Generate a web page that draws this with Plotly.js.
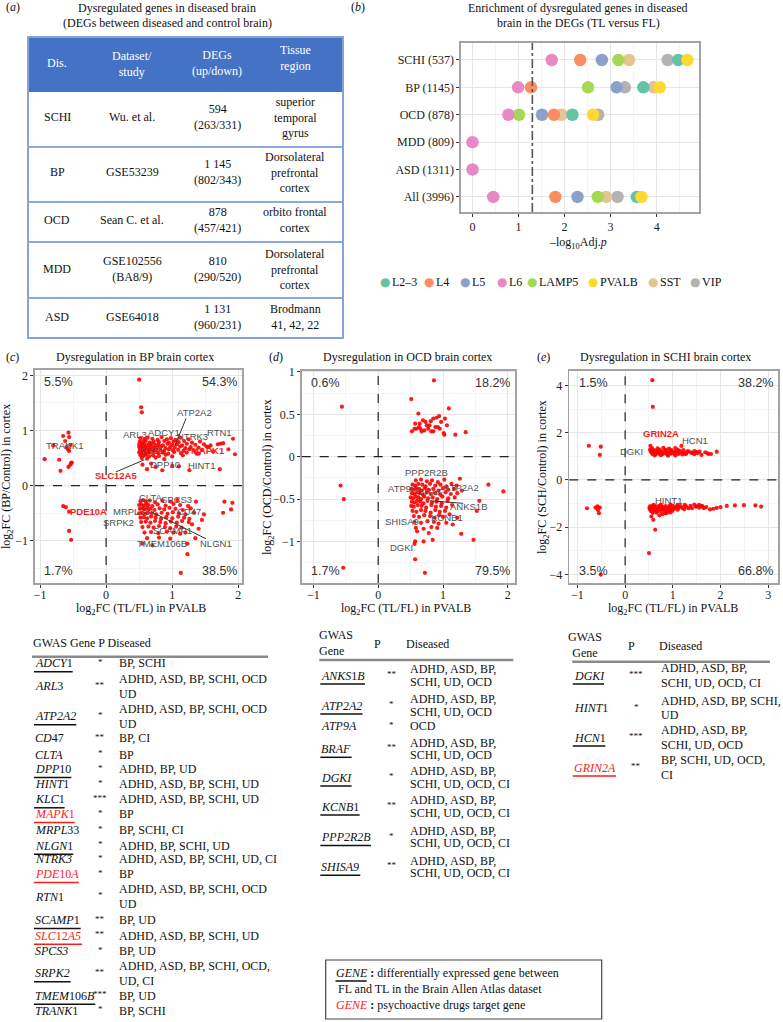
<!DOCTYPE html>
<html><head><meta charset="utf-8">
<script src="https://cdn.plot.ly/plotly-3.0.1.min.js"></script>
<style>html,body{margin:0;padding:0;background:#fff;}</style>
</head><body><div id="chart" style="width:783px;height:1022px;"></div>
<script>
// ---------------- DATA ----------------
// (a) table
const disNames = ['SCHI','BP','OCD','MDD','ASD'];
const datasets = ['Wu. et al.','GSE53239','Sean C. et al.','GSE102556<br>(BA8/9)','GSE64018'];
const degTotals = ['594','1 145','878','810','1 131'];
const degUpDown = ['263/331','802/343','457/421','290/520','960/231'];
const tissues = ['superior<br>temporal<br>gyrus','Dorsolateral<br>prefrontal<br>cortex','orbito frontal<br>cortex','Dorsolateral<br>prefrontal<br>cortex','Brodmann<br>41, 42, 22'];
const tableHeaders = ['Dis.','Dataset/<br>study','DEGs<br>(up/down)','Tissue<br>region'];

// (b) enrichment
const diseaseCats = ['SCHI (537)','BP (1145)','OCD (878)','MDD (809)','ASD (1311)','All (3996)'];
const cellTypes = ['L2–3','L4','L5','L6','LAMP5','PVALB','SST','VIP'];
const enrL23   = [4.47, 3.71, 2.17, null, null, 3.57];
const enrL4    = [2.34, 1.27, 1.77, null, null, 1.80];
const enrL5    = [2.81, 3.13, 1.51, null, null, 2.28];
const enrL6    = [1.72, 0.99, 0.78, 0, 0, 0.45];
const enrLAMP5 = [3.17, 2.51, 1.01, null, null, 2.72];
const enrPVALB = [4.67, 4.07, 2.62, null, null, 3.67];
const enrSST   = [3.40, 3.93, 1.93, null, null, 2.90];
const enrVIP   = [4.24, 3.31, 2.73, null, null, 3.15];
const enrichSeries = [enrL23, enrL4, enrL5, enrL6, enrLAMP5, enrPVALB, enrSST, enrVIP];
const sigThreshold = 1.3;

// (c) BP points [log2FC TL/FL, log2FC BP/Control]
const bpPoints = [
[-0.93,0.48],[-0.80,0.73],[-0.71,0.47],[-0.69,0.27],[-0.65,0.90],[-0.62,0.81],[-0.57,0.96],[-0.56,0.88],[-0.56,0.63],[-0.57,0.34],[-0.54,0.74],[-0.52,0.42],[-0.54,0.38],[-0.60,0.70],[-0.58,0.66],[-0.53,0.41],
[-0.65,-0.37],[-0.61,-0.39],[-0.56,-0.47],[-0.56,-0.82],[-0.53,-0.98],
[0.50,1.92],[0.53,1.42],[0.54,1.33],[1.92,0.85],[1.95,0.57],[1.73,0.76],[1.69,0.75],[1.77,0.77],[1.72,0.30],[1.26,0.28],[0.85,0.28],[0.55,0.38],[0.62,0.30],[1.10,0.35],[1.00,0.36],[0.75,0.34],[0.68,0.40],[1.62,0.62],[1.55,0.70],[1.40,0.58],[1.85,0.66],
[0.52,0.86],[0.58,0.84],[0.63,0.87],[0.70,0.85],[0.78,0.83],[0.84,0.88],[0.92,0.84],[0.98,0.86],[1.05,0.83],[1.12,0.87],[1.25,0.84],
[0.51,0.80],[0.55,0.79],[0.60,0.81],[0.66,0.78],[0.72,0.80],[0.80,0.79],[0.88,0.81],[0.95,0.78],[1.02,0.80],[1.10,0.79],[1.18,0.81],[1.30,0.78],[1.42,0.80],
[0.50,0.75],[0.54,0.74],[0.57,0.76],[0.61,0.73],[0.65,0.75],[0.69,0.76],[0.74,0.74],[0.79,0.75],[0.86,0.73],[0.93,0.76],[1.00,0.74],[1.07,0.75],[1.15,0.73],[1.22,0.76],[1.35,0.74],[1.48,0.75],[1.58,0.73],
[0.50,0.70],[0.53,0.69],[0.56,0.71],[0.60,0.70],[0.64,0.68],[0.68,0.71],[0.73,0.69],[0.78,0.70],[0.83,0.71],[0.90,0.68],[0.97,0.70],[1.04,0.69],[1.12,0.71],[1.20,0.68],[1.28,0.70],[1.40,0.69],[1.52,0.71],
[0.51,0.65],[0.54,0.64],[0.58,0.66],[0.62,0.63],[0.67,0.65],[0.71,0.66],[0.76,0.64],[0.82,0.65],[0.88,0.63],[0.95,0.66],[1.01,0.64],[1.09,0.65],[1.17,0.63],[1.26,0.66],[1.33,0.64],[1.45,0.65],
[0.50,0.60],[0.53,0.59],[0.57,0.61],[0.61,0.58],[0.66,0.60],[0.72,0.61],[0.79,0.59],[0.86,0.60],[0.94,0.58],[1.03,0.61],[1.13,0.59],[1.22,0.60],[1.37,0.58],
[0.52,0.55],[0.56,0.54],[0.60,0.56],[0.65,0.53],[0.71,0.55],[0.80,0.54],[0.90,0.56],[1.00,0.53],[1.16,0.55],
[0.54,0.50],[0.62,0.49],[0.75,0.51],[0.88,0.48],
[1.13,-1.58],[1.23,-1.24],[1.36,-0.29],[1.79,-0.29],[1.91,-0.31],[1.89,-0.43],[1.77,-0.49],[1.35,-0.95],[1.23,-1.05],[0.70,-1.08],[0.55,-1.05],[1.45,-0.62],[1.40,-0.78],[1.30,-0.70],[1.20,-0.85],[1.48,-0.52],
[0.52,-0.28],[0.56,-0.26],[0.60,-0.29],[0.66,-0.27],[0.74,-0.30],[0.85,-0.27],[0.98,-0.29],[1.08,-0.26],
[0.50,-0.35],[0.53,-0.34],[0.57,-0.36],[0.61,-0.33],[0.64,-0.35],[0.70,-0.37],[0.78,-0.34],[0.90,-0.36],[1.02,-0.33],[1.12,-0.35],[1.24,-0.37],
[0.51,-0.42],[0.55,-0.41],[0.58,-0.43],[0.62,-0.40],[0.67,-0.42],[0.73,-0.44],[0.81,-0.41],[0.88,-0.43],[0.96,-0.40],[1.05,-0.42],[1.16,-0.44],[1.28,-0.41],
[0.50,-0.50],[0.54,-0.49],[0.59,-0.51],[0.63,-0.48],[0.69,-0.50],[0.76,-0.52],[0.84,-0.49],[0.93,-0.51],[1.01,-0.48],[1.10,-0.50],[1.20,-0.52],[1.33,-0.49],
[0.52,-0.58],[0.57,-0.57],[0.62,-0.59],[0.68,-0.56],[0.75,-0.58],[0.83,-0.60],[0.91,-0.57],[1.00,-0.59],[1.09,-0.56],[1.18,-0.58],[1.26,-0.60],
[0.53,-0.66],[0.60,-0.65],[0.67,-0.67],[0.74,-0.64],[0.82,-0.66],[0.90,-0.68],[0.98,-0.65],[1.07,-0.67],[1.15,-0.64],[1.25,-0.66],
[0.55,-0.75],[0.64,-0.74],[0.72,-0.76],[0.80,-0.73],[0.89,-0.75],[0.97,-0.77],[1.06,-0.74],[1.14,-0.76],
[0.58,-0.85],[0.68,-0.84],[0.79,-0.86],[0.92,-0.83],[1.02,-0.85],[1.12,-0.87],
[0.62,-0.95],[0.80,-0.94],[0.97,-0.96]
];
const bpQuadrants = ['5.5%','54.3%','1.7%','38.5%'];
const bpLabels = ['TRANK1','ATP2A2','ARL3','ADCY1','NTRK3','RTN1','KLC1','MAPK1','DPP10','HINT1','SLC12A5','CLTA','SPCS3','PDE10A','MRPL33','CD47','SRPK2','SCAMP1','NLGN1','TMEM106B'];
const bpLabelRed = [0,0,0,0,0,0,0,1,0,0,1,0,0,1,0,0,0,0,0,0];

// (d) OCD points
const ocdPoints = [
[-0.56,0.59],[-0.58,-0.34],[-0.53,-0.50],[-0.54,-1.31],
[0.86,0.90],[0.51,0.68],[0.62,0.51],[1.09,0.57],[1.03,0.45],[0.94,0.48],[0.90,0.46],[0.85,0.45],[0.81,0.42],[0.69,0.43],[0.57,0.39],[0.64,0.39],[0.75,0.37],[0.79,0.37],[0.92,0.35],[1.06,0.37],[0.52,0.30],[0.59,0.33],[0.65,0.33],[0.71,0.31],[0.77,0.33],[0.82,0.30],[0.88,0.35],[0.95,0.33],[1.01,0.28],[1.02,0.26],[1.19,0.26],[1.35,0.29],[0.63,0.35],[0.73,0.41],[0.85,0.30],[0.56,0.33],[0.67,0.30],[0.97,0.41],
[1.70,-0.33],[1.93,-0.41],[1.56,-0.52],[1.52,-0.64],[1.47,-0.98],[0.72,-1.37],[0.57,-1.21],[0.57,-1.00],[0.56,-1.03],[1.28,-0.91],[1.26,-0.26],[0.70,-1.00],[0.84,-0.98],[0.78,-0.90],[0.60,-0.88],[1.05,-0.78],[1.15,-0.80],[1.10,-0.68],[1.22,-0.72],
[0.58,-0.28],[0.66,-0.27],[0.75,-0.29],[0.83,-0.28],[0.92,-0.30],[1.02,-0.27],
[0.53,-0.33],[0.57,-0.34],[0.62,-0.32],[0.68,-0.33],[0.73,-0.35],[0.80,-0.32],[0.88,-0.34],[0.96,-0.33],[1.05,-0.35],[1.13,-0.32],[1.21,-0.34],
[0.51,-0.38],[0.55,-0.39],[0.59,-0.37],[0.63,-0.38],[0.67,-0.40],[0.72,-0.37],[0.78,-0.39],[0.85,-0.38],[0.93,-0.40],[1.00,-0.37],[1.08,-0.39],[1.17,-0.38],[1.29,-0.40],
[0.52,-0.43],[0.56,-0.44],[0.60,-0.42],[0.64,-0.43],[0.69,-0.45],[0.75,-0.42],[0.81,-0.44],[0.88,-0.43],[0.96,-0.45],[1.04,-0.42],[1.12,-0.44],[1.22,-0.43],
[0.50,-0.48],[0.54,-0.49],[0.58,-0.47],[0.62,-0.48],[0.66,-0.50],[0.71,-0.47],[0.77,-0.49],[0.84,-0.48],[0.91,-0.50],[0.99,-0.47],[1.08,-0.49],[1.18,-0.48],
[0.52,-0.53],[0.56,-0.54],[0.60,-0.52],[0.65,-0.53],[0.70,-0.55],[0.76,-0.52],[0.83,-0.54],[0.90,-0.53],[0.98,-0.55],[1.07,-0.52],
[0.51,-0.58],[0.55,-0.59],[0.61,-0.57],[0.67,-0.58],[0.74,-0.60],[0.82,-0.57],[0.89,-0.59],[0.97,-0.58],[1.05,-0.60],[1.14,-0.57],
[0.53,-0.64],[0.59,-0.65],[0.66,-0.63],[0.73,-0.64],[0.81,-0.66],[0.88,-0.63],[0.95,-0.65],[1.03,-0.64],
[0.55,-0.70],[0.63,-0.71],[0.71,-0.69],[0.80,-0.70],[0.87,-0.72],[0.94,-0.69],[1.00,-0.71],
[0.56,-0.77],[0.66,-0.78],[0.76,-0.76],[0.86,-0.77],[0.93,-0.79],
[0.58,-0.84],[0.70,-0.85],[0.82,-0.83],[0.91,-0.84]
];
const ocdQuadrants = ['0.6%','18.2%','1.7%','79.5%'];
const ocdLabels = ['PPP2R2B','ATP9A','BRAF','ATP2A2','ANKS1B','KCNB1','SHISA9','DGKI'];
const ocdLabelRed = [0,0,0,0,0,0,0,0];

// (e) SCHI points
const schPoints = [
[-0.76,1.45],[-0.51,1.41],[-0.53,1.06],
[-0.80,-1.20],[-0.62,-1.17],[-0.57,-1.27],[-0.55,-1.41],[-0.53,-1.17],[-0.58,-1.12],[-0.51,-4.01],
[0.57,4.23],[0.58,3.10],[0.53,1.44],[1.18,1.44],[1.92,1.20],[1.80,1.10],[1.73,1.13],[1.60,1.06],[1.50,1.18],[1.40,1.15],[1.33,1.21],[1.26,1.10],
[0.56,1.35],[0.68,1.34],[0.80,1.36],[0.92,1.33],[1.05,1.35],
[0.52,1.28],[0.60,1.27],[0.72,1.29],[0.85,1.28],[0.97,1.26],[1.10,1.29],[1.22,1.27],
[0.54,1.22],[0.58,1.21],[0.63,1.23],[0.70,1.22],[0.77,1.20],[0.84,1.23],[0.90,1.21],[0.98,1.22],[1.06,1.20],[1.14,1.23],[1.30,1.21],[1.45,1.22],[1.56,1.20],
[0.55,1.16],[0.60,1.15],[0.66,1.17],[0.73,1.16],[0.80,1.14],[0.87,1.17],[0.95,1.15],[1.02,1.16],[1.10,1.14],[1.18,1.17],[1.24,1.15],[1.38,1.16],[1.52,1.14],[1.68,1.17],
[0.57,1.10],[0.64,1.09],[0.71,1.11],[0.79,1.10],[0.88,1.08],[0.96,1.11],[1.04,1.09],[1.12,1.10],[1.20,1.08],[1.28,1.11],[1.45,1.09],[1.75,1.10],
[0.62,1.04],[0.75,1.05],[0.90,1.03],[1.05,1.04],
[0.55,-1.55],[0.59,-1.69],[0.63,-2.11],[0.50,-3.10],[0.87,-1.41],[2.30,-1.08],[2.49,-1.07],[2.73,-1.08],[2.85,-1.13],[2.13,-1.10],[2.00,-1.15],[1.92,-1.18],[1.85,-1.22],[1.78,-1.25],[1.70,-1.15],[1.60,-1.12],[1.50,-1.12],[1.40,-1.20],[0.78,-1.45],[0.72,-1.50],
[0.60,-1.05],[0.75,-1.06],[0.95,-1.04],[1.10,-1.05],[1.25,-1.06],[1.45,-1.04],[1.55,-1.05],
[0.52,-1.12],[0.56,-1.11],[0.61,-1.13],[0.66,-1.12],[0.72,-1.10],[0.78,-1.13],[0.85,-1.11],[0.92,-1.12],[1.00,-1.10],[1.08,-1.13],[1.16,-1.11],[1.28,-1.12],[1.37,-1.10],[1.48,-1.13],[1.62,-1.11],
[0.51,-1.18],[0.55,-1.19],[0.59,-1.17],[0.64,-1.18],[0.69,-1.20],[0.75,-1.17],[0.81,-1.19],[0.88,-1.18],[0.95,-1.20],[1.03,-1.17],[1.12,-1.19],[1.20,-1.18],[1.33,-1.20],[1.55,-1.17],[1.65,-1.19],
[0.52,-1.25],[0.57,-1.24],[0.62,-1.26],[0.68,-1.25],[0.74,-1.23],[0.80,-1.26],[0.87,-1.24],[0.94,-1.25],[1.02,-1.23],[1.10,-1.26],[1.24,-1.24],
[0.54,-1.32],[0.60,-1.31],[0.67,-1.33],[0.74,-1.32],[0.82,-1.30],[0.90,-1.33],[0.99,-1.31],
[0.58,-1.40],[0.66,-1.39],[0.84,-1.41],[0.95,-1.38]
];
const schQuadrants = ['1.5%','38.2%','3.5%','66.8%'];
const schLabels = ['GRIN2A','HCN1','DGKI','HINT1'];
const schLabelRed = [1,0,0,0];

// GWAS tables
const gwasCGenes = ['<i>ADCY</i>1','<i>ARL</i>3','<i>ATP2A2</i>','<i>CD</i>47','<i>CLTA</i>','<i>DPP</i>10','<i>HINT</i>1','<i>KLC</i>1','<i>MAPK</i>1','<i>MRPL</i>33','<i>NLGN</i>1','<i>NTRK3</i>','<i>PDE</i>10<i>A</i>','<i>RTN</i>1','<i>SCAMP</i>1','<i>SLC</i>12<i>A5</i>','<i>SPCS3</i>','<i>SRPK2</i>','<i>TMEM</i>106<i>B</i>','<i>TRANK</i>1'];
const gwasCP = ['*','**','*','**','*','*','*','***','*','*','*','*','*','*','**','**','*','**','***','*'];
const gwasCDis = [['BP, SCHI'],['ADHD, ASD, BP, SCHI, OCD','UD'],['ADHD, ASD, BP, SCHI, OCD','UD'],['BP, CI'],['BP'],['ADHD, BP, UD'],['ADHD, ASD, BP, SCHI, UD'],['ADHD, ASD, BP, SCHI, UD'],['BP'],['BP, SCHI, CI'],['ADHD, BP, SCHI, UD'],['ADHD, ASD, BP, SCHI, UD, CI'],['BP'],['ADHD, ASD, BP, SCHI, OCD','UD'],['BP, UD'],['ADHD, ASD, BP, SCHI, UD'],['BP, UD'],['ADHD, ASD, BP, SCHI, OCD,','UD, CI'],['BP, UD'],['BP, SCHI']];
const gwasCDeg = [1,0,1,0,0,1,0,1,1,0,1,0,1,0,1,1,0,1,1,0];
const gwasCDrug = [0,0,0,0,0,0,0,0,1,0,0,0,1,0,0,1,0,0,0,0];

const gwasDGenes = ['<i>ANKS</i>1<i>B</i>','<i>ATP2A2</i>','<i>ATP9A</i>','<i>BRAF</i>','<i>DGKI</i>','<i>KCNB</i>1','<i>PPP2R2B</i>','<i>SHISA9</i>'];
const gwasDP = ['**','*','*','**','*','**','*','**'];
const gwasDDis = [['ADHD, ASD, BP,','SCHI, UD, OCD'],['ADHD, ASD, BP,','SCHI, UD, OCD'],['OCD'],['ADHD, ASD, BP,','SCHI, UD, OCD'],['ADHD, ASD, BP,','SCHI, UD, OCD, CI'],['ADHD, ASD, BP,','SCHI, UD, OCD, CI'],['ADHD, ASD, BP,','SCHI, UD, OCD, CI'],['ADHD, ASD, BP,','SCHI, UD, OCD, CI']];
const gwasDDeg = [1,1,0,1,1,1,1,1];
const gwasDDrug = [0,0,0,0,0,0,0,0];

const gwasEGenes = ['<i>DGKI</i>','<i>HINT</i>1','<i>HCN</i>1','<i>GRIN2A</i>'];
const gwasEP = ['***','*','***','**'];
const gwasEDis = [['ADHD, ASD, BP,','SCHI, UD, OCD, CI'],['ADHD, ASD, BP, SCHI,','UD'],['ADHD, ASD, BP,','SCHI, UD, OCD'],['BP, SCHI, UD, OCD,','CI']];
const gwasEDeg = [1,0,1,1];
const gwasEDrug = [0,0,0,1];

// ---------------- LAYOUT HELPERS ----------------
const W = 783, H = 1022;
const px = x => x / W;
const py = y => 1 - y / H;
const SERIF = '"Liberation Serif", "Times New Roman", serif';
const SANS = '"Liberation Sans", Arial, sans-serif';
const RED = '#FF1A1A';
const annotations = [];
const shapes = [];

function txt(text, x, y, o) {
  o = o || {};
  const font = Object.assign({family: SERIF, size: 12, color: '#111'}, o.font || {});
  const a = Object.assign({text: text, x: px(x), y: py(y), xref: 'paper', yref: 'paper', showarrow: false,
    xanchor: 'center', yanchor: 'middle'}, o);
  a.font = font;
  annotations.push(a);
}
function pline(x0, y0, x1, y1, color, w, dash) {
  shapes.push({type: 'line', xref: 'paper', yref: 'paper', x0: px(x0), y0: py(y0), x1: px(x1), y1: py(y1),
    line: {color: color, width: w, dash: dash || 'solid'}});
}
function prect(x0, y0, x1, y1, lineColor, lineW, fill) {
  shapes.push({type: 'rect', xref: 'paper', yref: 'paper', x0: px(x0), y0: py(y0), x1: px(x1), y1: py(y1),
    line: {color: lineColor, width: lineW}, fillcolor: fill || 'rgba(0,0,0,0)', layer: 'below'});
}
const mctx = document.createElement('canvas').getContext('2d');
function textW(html, size) {
  mctx.font = 'italic ' + size + 'px "Liberation Serif"';
  return mctx.measureText(html.replace(/<[^>]+>/g, '')).width;
}

// ---------------- (a) TABLE ----------------
txt('(<i>a</i>)', 4, 7, {xanchor: 'left'});
txt('Dysregulated genes in diseased brain', 167, 7.5);
txt('(DEGs between diseased and control brain)', 167, 23);
const tL = 28, tR = 343, tTop = 37, tHead = 92, tBot = 338;
const rowLines = [147, 202, 242, 298];
const rowCenters = [117.5, 172, 220.5, 269, 317];
const colX = [57, 132, 217, 295];
const headY = [63, 64.5, 62.5, 58];
prect(tL, tTop, tR, tHead, '#4472C4', 0, '#4472C4');
rowLines.forEach(y => pline(tL, y, tR, y, '#8EAADB', 2));
shapes.push({type: 'rect', xref: 'paper', yref: 'paper', x0: px(tL), y0: py(tBot), x1: px(tR), y1: py(tTop),
  line: {color: '#86A4DA', width: 2}, fillcolor: 'rgba(0,0,0,0)'});
tableHeaders.forEach((h, i) => txt(h, colX[i], headY[i], {font: {color: '#FFFFFF'}}));
disNames.forEach((d, i) => {
  const y = rowCenters[i];
  txt(d, colX[0], y);
  txt(datasets[i], colX[1], y);
  txt(degTotals[i] + '<br>(' + degUpDown[i] + ')', colX[2], y);
  txt(tissues[i], colX[3], y);
});

// ---------------- (b) ENRICHMENT ----------------
txt('(<i>b</i>)', 358, 7, {xanchor: 'center'});
txt('Enrichment of dysregulated genes in diseased', 578, 7.5);
txt('brain in the DEGs (TL versus FL)', 578, 23);
txt('–log<sub>10</sub>Adj.<i>p</i>', 578, 243);
const cellColors = ['#66C2A5', '#FC8D62', '#8DA0CB', '#E78AC3', '#A6D854', '#FFD92F', '#E5C494', '#B3B3B3'];
const drawOrder = [7, 6, 4, 2, 1, 0, 5, 3];
const legendMarkX = [385, 429, 465, 502, 532, 593, 653, 695];
cellTypes.forEach((c, i) => {
  txt('●', legendMarkX[i], 282, {font: {family: '"DejaVu Sans", sans-serif', size: 12, color: cellColors[i]}});
  txt(c, legendMarkX[i] + 5, 282, {xanchor: 'left'});
});

const traces = [];
drawOrder.forEach(i => {
  traces.push({type: 'scatter', mode: 'markers', x: enrichSeries[i], y: diseaseCats, xaxis: 'x', yaxis: 'y',
    name: cellTypes[i], marker: {size: 12.5, color: cellColors[i], line: {width: 0}}, hoverinfo: 'skip'});
});
shapes.push({type: 'line', xref: 'x', yref: 'y domain', x0: sigThreshold, x1: sigThreshold, y0: 0, y1: 1,
  line: {color: '#555', width: 1.6, dash: 'dashdot'}});

// ---------------- (c)(d)(e) SCATTERS ----------------
function scatterTrace(pts, ax) {
  return {type: 'scatter', mode: 'markers', x: pts.map(p => p[0]), y: pts.map(p => p[1]),
    xaxis: 'x' + ax, yaxis: 'y' + ax, marker: {size: 4.2, color: '#FF0000', opacity: 0.9, line: {width: 0}}, hoverinfo: 'skip'};
}
traces.push(scatterTrace(bpPoints, 2));
traces.push(scatterTrace(ocdPoints, 3));
traces.push(scatterTrace(schPoints, 4));

function zeroLines(ax) {
  shapes.push({type: 'line', xref: 'x' + ax, yref: 'y' + ax + ' domain', x0: 0, x1: 0, y0: 0, y1: 1, line: {color: '#222', width: 1.2, dash: 'dash'}});
  shapes.push({type: 'line', xref: 'x' + ax + ' domain', yref: 'y' + ax, x0: 0, x1: 1, y0: 0, y1: 0, line: {color: '#222', width: 1.2, dash: 'dash'}});
}
function quadrants(ax, q) {
  const f = {family: SANS, size: 12.5, color: '#333'};
  const base = {xref: 'x' + ax + ' domain', yref: 'y' + ax + ' domain', showarrow: false, font: f};
  annotations.push(Object.assign({}, base, {text: q[0], x: 0.035, y: 0.985, xanchor: 'left', yanchor: 'top'}));
  annotations.push(Object.assign({}, base, {text: q[1], x: 0.985, y: 0.985, xanchor: 'right', yanchor: 'top'}));
  annotations.push(Object.assign({}, base, {text: q[2], x: 0.035, y: 0.015, xanchor: 'left', yanchor: 'bottom'}));
  annotations.push(Object.assign({}, base, {text: q[3], x: 0.985, y: 0.015, xanchor: 'right', yanchor: 'bottom'}));
}
function geneLabels(ax, names, red, lx, ly) {
  names.forEach((n, i) => {
    annotations.push({text: red[i] ? '<b>' + n + '</b>' : n, x: lx[i], y: ly[i], xref: 'x' + ax, yref: 'y' + ax,
      showarrow: false, xanchor: 'center', yanchor: 'middle',
      font: {family: SANS, size: 9.5, color: red[i] ? RED : '#505050'}});
  });
}
function leader(ax, x0, y0, x1, y1) {
  shapes.push({type: 'line', xref: 'x' + ax, yref: 'y' + ax, x0: x0, y0: y0, x1: x1, y1: y1, line: {color: '#333', width: 1}});
}

const xTitleY = 609;
// (c)
txt('(<i>c</i>)', 4, 357, {xanchor: 'left'});
txt('Dysregulation in BP brain cortex', 135, 357);
txt('log<sub>2</sub>FC (TL/FL) in PVALB', 141, xTitleY);
txt('log<sub>2</sub>FC (BP/Control) in cortex', 7, 477, {textangle: -90});
zeroLines(2); quadrants(2, bpQuadrants);
geneLabels(2, bpLabels, bpLabelRed,
  [-0.63, 1.34, 0.44, 0.88, 1.31, 1.72, 0.70, 1.54, 0.89, 1.44, 0.15, 0.68, 1.06, -0.26, 0.38, 1.26, 0.18, 1.01, 1.66, 0.85],
  [0.72, 1.32, 0.92, 0.96, 0.90, 0.96, 0.63, 0.63, 0.39, 0.36, 0.18, -0.21, -0.25, -0.47, -0.46, -0.47, -0.67, -0.81, -1.04, -1.05]);
leader(2, 1.21, 1.22, 1.04, 0.72);
leader(2, 0.15, 0.25, 0.58, 0.47);
leader(2, 0.68, -0.47, 1.51, -0.96);

// (d)
txt('(<i>d</i>)', 276, 357);
txt('Dysregulation in OCD brain cortex', 408, 357);
txt('log<sub>2</sub>FC (TL/FL) in PVALB', 406, xTitleY);
txt('log<sub>2</sub>FC (OCD/Control) in cortex', 268, 477, {textangle: -90});
zeroLines(3); quadrants(3, ocdQuadrants);
geneLabels(3, ocdLabels, ocdLabelRed,
  [0.75, 0.39, 0.82, 1.29, 1.40, 1.06, 0.36, 0.36],
  [-0.19, -0.38, -0.41, -0.36, -0.59, -0.72, -0.76, -1.07]);
leader(3, 0.80, -0.52, 1.31, -0.55);

// (e)
txt('(<i>e</i>)', 543, 357);
txt('Dysregulation in SCHI brain cortex', 665, 357);
txt('log<sub>2</sub>FC (TL/FL) in PVALB', 673, xTitleY);
txt('log<sub>2</sub>FC (SCH/Control) in cortex', 543, 477, {textangle: -90});
zeroLines(4); quadrants(4, schQuadrants);
geneLabels(4, schLabels, schLabelRed, [0.75, 1.46, 0.13, 0.90], [1.97, 1.66, 1.20, -0.89]);

// ---------------- GWAS TABLES ----------------
function gwasTable(genes, ps, dis, deg, drug, rowY, geneX, pX, disX, lineGap) {
  genes.forEach((g, i) => {
    const y = rowY[i];
    const col = drug[i] ? RED : '#111';
    txt(g, geneX, y, {xanchor: 'left', font: {color: col}});
    txt(ps[i], pX, y - 1.5, {font: {size: 9}});
    if (dis[i].length === 1) txt(dis[i][0], disX, y, {xanchor: 'left'});
    else { txt(dis[i][0], disX, y - lineGap, {xanchor: 'left'}); txt(dis[i][1], disX, y + lineGap, {xanchor: 'left'}); }
    if (deg[i]) {
      const w = textW(g, 12);
      pline(geneX + 1, y + 8.5, geneX + 3 + w, y + 8.5, drug[i] ? RED : '#111', 1.5);
    }
  });
}
// table under (c)
txt('GWAS Gene P Diseased', 30.5, 643, {xanchor: 'left'});
pline(32, 656.7, 268, 656.7, '#8a8a8a', 2.5);
gwasTable(gwasCGenes, gwasCP, gwasCDis, gwasCDeg, gwasCDrug,
  [663.3, 686.2, 716.2, 738.3, 754.5, 769, 784, 799.3, 814, 830, 845.7, 859.3, 874, 896.5, 920, 935.7, 951, 973.3, 995.7, 1010.7],
  33, 100, 117.3, 7.5);
// table under (d)
txt('GWAS<br>Gene', 317, 642.5, {xanchor: 'left', align: 'left'});
txt('P', 377.3, 644);
txt('Diseased', 404.3, 644, {xanchor: 'left'});
pline(319.3, 660, 513.3, 660, '#8a8a8a', 2.5);
gwasTable(gwasDGenes, gwasDP, gwasDDis, gwasDDeg, gwasDDrug,
  [675.5, 705.5, 726, 748.8, 777.5, 806.5, 837, 866.7],
  319.3, 391.7, 408.3, 6.2);
// table under (e)
txt('GWAS<br>Gene', 585, 645, {align: 'center'});
txt('P', 631.7, 645.7);
txt('Diseased', 656.7, 645.7, {xanchor: 'left'});
pline(572.3, 661.7, 770, 661.7, '#8a8a8a', 2.5);
gwasTable(gwasEGenes, gwasEP, gwasEDis, gwasEDeg, gwasEDrug,
  [675.5, 708, 737.5, 767.5],
  571.7, 636, 659.3, 7.3);

// ---------------- KEY BOX ----------------
shapes.push({type: 'rect', xref: 'paper', yref: 'paper', x0: px(325.7), y0: py(1019), x1: px(601.7), y1: py(960),
  line: {color: '#444', width: 1.2}, fillcolor: 'rgba(0,0,0,0)'});
txt('<i>GENE</i> <b>:</b> differentially expressed gene between', 334, 972.7, {xanchor: 'left'});
pline(335.5, 981, 366.7, 981, '#111', 1.5);
txt('FL and TL in the Brain Allen Atlas dataset', 336, 989.3, {xanchor: 'left'});
txt('<span style="color:' + RED + '"><i>GENE</i></span> <b>:</b> psychoactive drugs target gene', 334, 1005, {xanchor: 'left'});

// ---------------- AXES ----------------
function axisBase(extra) {
  return Object.assign({showgrid: true, gridcolor: '#E6E6E6', gridwidth: 1, zeroline: false,
    showline: true, mirror: true, linecolor: '#A3A3A3', linewidth: 1.6,
    ticks: 'outside', ticklen: 3, tickwidth: 1, tickcolor: '#333',
    tickfont: {family: SERIF, size: 12, color: '#222'}, fixedrange: true}, extra);
}
const minorGrid = dt => ({dtick: dt, showgrid: true, gridcolor: '#F3F3F3', gridwidth: 0.8, ticks: ''});

const layout = {
  width: W, height: H, autosize: false,
  margin: {l: 0, r: 0, t: 0, b: 0, pad: 0},
  paper_bgcolor: '#FFFFFF', plot_bgcolor: '#FFFFFF',
  showlegend: false,
  font: {family: SERIF, size: 12, color: '#111'},
  xaxis: axisBase({domain: [px(461), px(699)], anchor: 'y', range: [-0.25, 4.92], tick0: 0, dtick: 1, minor: minorGrid(0.5)}),
  yaxis: axisBase({domain: [py(212), py(43)], anchor: 'x', type: 'category', categoryorder: 'array',
    categoryarray: diseaseCats.slice().reverse(), range: [-0.55, 5.62]}),
  xaxis2: axisBase({domain: [px(35), px(242)], anchor: 'y2', range: [-1.076, 2.056], tick0: 0, dtick: 1, minor: minorGrid(0.5), ticklabelstandoff: -3}),
  yaxis2: axisBase({domain: [py(583), py(370)], anchor: 'x2', range: [-1.763, 2.096], tick0: 0, dtick: 1, minor: minorGrid(0.5)}),
  xaxis3: axisBase({domain: [px(301.7), px(515)], anchor: 'y3', range: [-1.18, 2.11], tick0: 0, dtick: 1, minor: minorGrid(0.5), ticklabelstandoff: -3}),
  yaxis3: axisBase({domain: [py(583), py(370.7)], anchor: 'x3', range: [-1.49, 1.015], tick0: 0, dtick: 0.5, minor: minorGrid(0.25)}),
  xaxis4: axisBase({domain: [px(569.3), px(778.3)], anchor: 'y4', range: [-1.17, 3.21], tick0: 0, dtick: 1, minor: minorGrid(0.5), ticklabelstandoff: -3}),
  yaxis4: axisBase({domain: [py(583.3), py(370.7)], anchor: 'x4', range: [-4.38, 4.63], tick0: 0, dtick: 2, minor: minorGrid(1)}),
  annotations: annotations,
  shapes: shapes
};

Plotly.newPlot('chart', traces, layout, {displayModeBar: false, staticPlot: true});
</script></body></html>
